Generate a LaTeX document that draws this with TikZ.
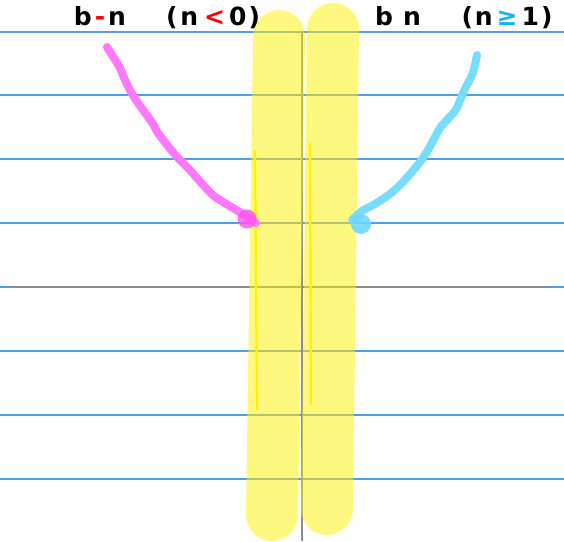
\documentclass[tikz,border=0pt]{standalone}
\usepackage{fontspec}
\setmainfont{DejaVu Sans}
\definecolor{rulecol}{RGB}{85,155,230}
\definecolor{axiscol}{RGB}{140,140,140}
\definecolor{pinkcol}{RGB}{255,120,255}
\definecolor{pinkblob}{RGB}{255,80,240}
\definecolor{cyancol}{RGB}{120,220,255}
\definecolor{cyanblob}{RGB}{110,215,255}
\definecolor{geqcol}{RGB}{20,180,240}
\begin{document}
\begin{tikzpicture}[x=1pt,y=-1pt,
  ruled/.style={draw=rulecol,line width=1.1pt},
  axisline/.style={draw=axiscol,line width=1.6pt},
  hilite/.style={draw=yellow,line width=52pt,line cap=round,opacity=0.5},
  thinyel/.style={draw=yellow,line width=2.2pt},
  pinkpen/.style={draw=pinkcol,line width=8pt,line cap=round,line join=round},
  cyanpen/.style={draw=cyancol,line width=8pt,line cap=round,line join=round},
  lbl/.style={font=\fontsize{25}{25}\selectfont\bfseries,inner sep=0pt,anchor=base}
]
\useasboundingbox (0,0) rectangle (564,541);
\fill[white] (0,0) rectangle (564,541);
% ruled lines
\foreach \y in {32,95,159,223,287,351,415,479} \draw[ruled] (0,\y) -- (564,\y);
% axes
\draw[axisline] (10,287) -- (548,287);
\draw[axisline] (302,32) -- (302,541);
% highlighter strokes
\draw[hilite] (279,36) -- (272,515);
\draw[hilite] (333,29) -- (327,509);
% thin yellow lines
\draw[thinyel] (255,150) -- (257,410);
\draw[thinyel] (310,143) -- (311,405);
% pink curve
\draw[pinkpen] plot[smooth,tension=0.5] coordinates {(107,47) (114,58) (120,68) (125,80) (131,92) (138,103) (146,114) (153,124) (158,133) (164,141) (172,151) (180,160) (189,169) (197,178) (205,187) (214,196) (228,205) (243,214) (256,223)};
\fill[pinkblob,opacity=0.8] (247,219) circle (9.5pt);
% cyan curve
\draw[cyanpen] plot[smooth,tension=0.5] coordinates {(477,55) (475,65) (472,75) (467,85) (463,93) (459,103) (455,111) (447,120) (440,128) (434,139) (428,150) (420,162) (411,173) (401,184) (390,194) (375,204) (362,211) (352,220)};
\fill[cyanblob,opacity=0.9] (361,224) circle (10pt);
% labels
\node[lbl] (bneg) at (100,25) {b\hspace{3pt}\textcolor{red}{-}\hspace{3pt}n};
\node[lbl] (condneg) at (213,25) {(\hspace{3pt}n\hspace{6pt}\textcolor{red}{<}\hspace{4pt}0\hspace{2pt})};
\node[lbl] (bpos) at (398,25) {b\hspace{10pt}n};
\node[lbl] (condpos) at (507,25) {(\hspace{2pt}n\hspace{4pt}\textcolor{geqcol}{≥}\hspace{4pt}1\hspace{2pt})};
\end{tikzpicture}
\end{document}
